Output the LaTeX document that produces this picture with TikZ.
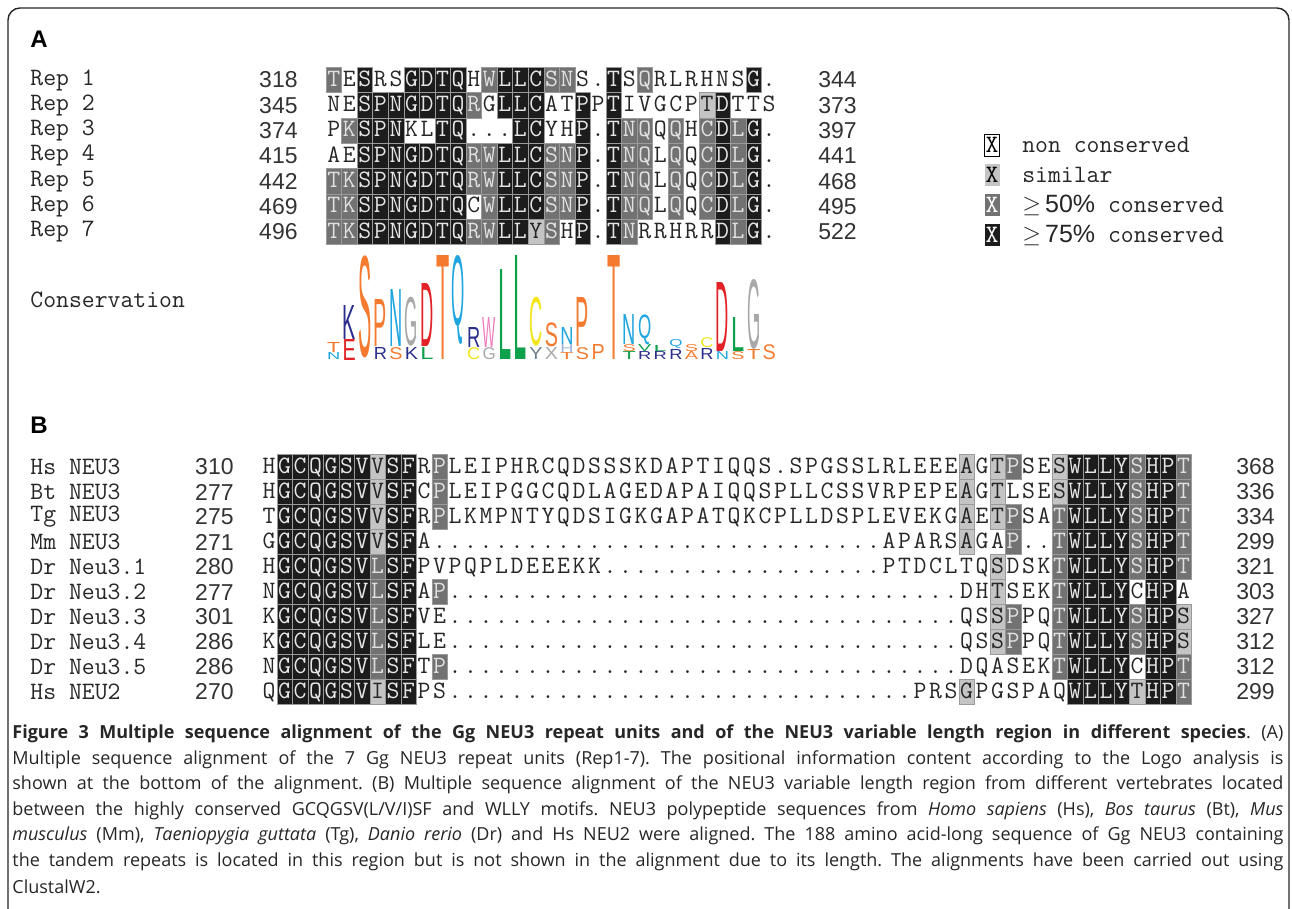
\documentclass[tikz,border=0pt]{standalone}
\usepackage{fontspec}
\setsansfont{Liberation Sans}
\newfontfamily\capfont{Open Sans}
\usepackage{graphicx}
\usetikzlibrary{positioning}

\definecolor{alnk}{HTML}{1C1C1C}
\definecolor{alnm}{HTML}{727272}
\definecolor{alnl}{HTML}{C4C4C4}
\definecolor{alngrid}{HTML}{9A9A9A}
\definecolor{lgor}{HTML}{F47A2F}
\definecolor{lgcy}{HTML}{1FA5E0}
\definecolor{lgnv}{HTML}{2B2E8C}
\definecolor{lggy}{HTML}{A8A8A8}
\definecolor{lgrd}{HTML}{E32227}
\definecolor{lggn}{HTML}{0DA14B}
\definecolor{lgye}{HTML}{F2E51A}
\definecolor{lgpk}{HTML}{F07CC0}
\definecolor{lgsl}{HTML}{6D7F8F}
\definecolor{lglb}{HTML}{9DB4D6}

\newcommand\seqfont{\ttfamily\fontsize{12.5}{14}\selectfont}
\newcommand\numfont{\sffamily\fontsize{11.5}{13}\selectfont}

\tikzset{
  frame/.style={draw=black!85, line width=0.7pt, rounded corners=6pt},
  plab/.style={inner sep=0, font=\sffamily\bfseries\fontsize{12}{14}\selectfont},
  lbl/.style={inner sep=0, anchor=west, font=\seqfont, text=black!85},
  num/.style={inner sep=0, font=\numfont, text=black!80},
  shw/.style={text=black!85},
  shl/.style={fill=alnl, draw=alngrid, line width=0.2pt, text=black!85},
  shm/.style={fill=alnm, draw=alngrid, line width=0.2pt, text=white!88!black},
  shk/.style={fill=alnk, draw=alngrid, line width=0.2pt, text=white!90!black},
  legbox/.style={inner sep=0, minimum width=7.5pt, minimum height=11pt, font=\seqfont},
  legtxt/.style={inner sep=0, anchor=west, font=\seqfont, text=black!85},
  logo/.style={inner sep=0, anchor=south},
  capline/.style={inner sep=0, anchor=west, text=black!85, font=\capfont\fontsize{9}{10}\selectfont\frenchspacing}
}

% one alignment row: x of first cell, y, row id, residues, shades (w/l/m/k)
\newcount\alncol
\def\alndots{.....}
\def\wfive{wwwww}
\def\wten{wwwwwwwwww}
\newcommand\alnrow[5]{%
  \def\alnxo{#1}\def\alnyo{#2}\def\alnid{#3}\global\alncol=0
  \edef\alntmp{\noexpand\alnnext#4\relax#5\relax}\alntmp}
\def\alnnext#1#2\relax#3#4\relax{%
  \global\advance\alncol by 1
  \node[res, sh#3] (\alnid-\the\alncol) at ({\alnxo+\alnw*(\the\alncol-0.5)}, \alnyo) {#1};
  \ifx\relax#2\relax\else\ifx\relax#4\relax\else\alnnext#2\relax#4\relax\fi\fi}

\begin{document}
\begin{tikzpicture}[x=0.5pt,y=-0.5pt]
\useasboundingbox (0,0) rectangle (1292,909);
\draw[frame] (8,909) -- (8,8) -- (1289,8) -- (1289,909);

% panel A
\node[plab] (pa) at (39,39) {A};
\def\alnw{15.55}
\tikzset{res/.style={inner sep=0, minimum width=7.775pt, minimum height=12.65pt, text height=7.7pt, text depth=1.3pt, font=\seqfont}}
\alnrow{326}{80}{a1}{TESRSGDTQHWLLCSNS.TSQRLRHNSG.}{mwkwwkkkkwmkkkmmwwkwmwwwwwwkw}
\alnrow{326}{105.3}{a2}{NESPNGDTQRGLLCATPPTIVGCPTDTTS}{wwkkkkkkkmwkkkwwkwkwwwwwlkwww}
\alnrow{326}{130.6}{a3}{PKSPNKLTQ...LCYHP.TNQQQHCDLG.}{wmkkkwwkkwwwkkwwkwkmmwmwmkmkw}
\alnrow{326}{155.9}{a4}{AESPNGDTQRWLLCSNP.TNQLQQCDLG.}{wwkkkkkkkmmkkkmmkwkmmwmwmkmkw}
\alnrow{326}{181.2}{a5}{TKSPNGDTQRWLLCSNP.TNQLQQCDLG.}{mmkkkkkkkmmkkkmmkwkmmwmwmkmkw}
\alnrow{326}{206.5}{a6}{TKSPNGDTQCWLLCSNP.TNQLQQCDLG.}{mmkkkkkkkwmkkkmmkwkmmwmwmkmkw}
\alnrow{326}{231.8}{a7}{TKSPNGDTQRWLLYSHP.TNRRHRRDLG.}{mmkkkkkkkmmkklmwkwkmwwwwwkmkw}
\foreach \lab/\nst/\nen [count=\i] in {Rep 1/318/344, Rep 2/345/373, Rep 3/374/397,
    Rep 4/415/441, Rep 5/442/468, Rep 6/469/495, Rep 7/496/522} {
  \node[lbl] (rep\i) at (30, {80+25.3*(\i-1)}) {\lab};
  \node[num, anchor=east] (repst\i) at (298, {80+25.3*(\i-1)}) {\nst};
  \node[num, anchor=west] (repen\i) at (818, {80+25.3*(\i-1)}) {\nen};
}

% legend
\node[legbox, fill=white, draw=black, line width=0.4pt, text=black] (lg1) at (992,145) {X};
\node[legbox, fill=alnl, text=black] (lg2) at (992,175) {X};
\node[legbox, fill=alnm, text=white] (lg3) at (992,205) {X};
\node[legbox, fill=alnk, text=white] (lg4) at (992,235) {X};
\node[legtxt, right=11pt of lg1] (lt1) {non conserved};
\node[legtxt, right=11pt of lg2] (lt2) {similar};
\node[legtxt, right=11pt of lg3] (lt3) {$\geq$\,\textsf{50\%} conserved};
\node[legtxt, right=11pt of lg4] (lt4) {$\geq$\,\textsf{75\%} conserved};

% logo
\node[lbl] (cons) at (30,300) {Conservation};
\foreach \lc/\lt/\lb/\lch/\lk in {1/343/353/T/lgor, 1/353/360/N/lgcy,
    2/340/361/E/lgrd, 2/306/340/K/lgnv, 3/256/358/S/lgor,
    4/348/360/R/lgnv, 4/300/347/P/lgor, 5/348/360/S/lgor, 5/290/347/N/lgcy,
    6/348/360/K/lgnv, 6/298/347/G/lggy, 7/348/360/L/lggn, 7/284/347/D/lgrd,
    8/256/360/T/lgor, 9/256/345/Q/lgcy,
    10/348/360/C/lgye, 10/328/348/R/lgnv, 11/348/360/G/lggy, 11/318/348/W/lgpk,
    12/270/360/L/lggn, 13/256/360/L/lggn,
    14/348/360/Y/lgsl, 14/298/347/C/lgye, 15/348/360/X/lggy, 15/323/347/S/lgor,
    16/353/360/T/lgor, 16/345/353/H/lglb, 16/328/345/N/lgcy,
    17/348/360/S/lgor, 17/298/347/P/lgor, 18/345/360/P/lgor, 19/256/360/T/lgor,
    20/352/360/T/lggn, 20/345/352/S/lgor, 20/315/345/N/lgcy,
    21/352/360/R/lgnv, 21/345/352/V/lggn, 21/315/345/Q/lgcy,
    22/352/360/R/lgnv, 22/346/352/L/lggn, 23/350/360/R/lgnv, 23/340/349/Q/lgcy,
    24/352/360/A/lgor, 24/345/352/S/lgor, 25/349/360/R/lgnv, 25/338/348/C/lgye,
    26/352/360/N/lgcy, 26/283/352/D/lgrd, 27/352/360/S/lgor, 27/318/352/L/lggn,
    28/350/360/T/lgor, 28/280/350/G/lggy, 29/345/360/S/lgor} {
  \pgfmathsetlengthmacro\lh{(\lb-\lt)*0.5}
  \node[logo, text=\lk] (logo-\lc-\lch) at ({326+15.55*(\lc-0.5)}, \lb) {\resizebox*{6.6pt}{\lh}{\sffamily\lch}};
}

% panel B
\node[plab] (pb) at (39,425) {B};
\def\alnw{15.5}
\tikzset{res/.style={inner sep=0, minimum width=7.75pt, minimum height=12.5pt, text height=7.7pt, text depth=1.3pt, font=\seqfont}}
\alnrow{261.2}{467}{b1}{HGCQGSVVSFRPLEIPHRCQDSSSKDAPTIQQS.SPGSSLRLEEEAGTPSESWLLYSHPT}{wkkkkkklkkwm\wfive www\wten\wten\wfive lwlmwwlkkkkmkkm}
\alnrow{261.2}{492}{b2}{HGCQGSVVSFCPLEIPGGCQDLAGEDAPAIQQSPLLCSSVRPEPEAGTLSESWLLYSHPT}{wkkkkkklkkwm\wfive www\wten\wten\wfive lwlwwwlkkkkmkkm}
\alnrow{261.2}{517}{b3}{TGCQGSVVSFRPLKMPNTYQDSIGKGAPATQKCPLLDSPLEVEKGAETPSATWLLYSHPT}{wkkkkkklkkwm\wfive www\wten\wten\wfive lwlmwwmkkkkmkkm}
\alnrow{261.2}{542}{b4}{GGCQGSVVSFA\alndots\alndots\alndots\alndots\alndots....APARSAGAP..TWLLYSHPT}{wkkkkkklkk\wten\wten\wten\wfive lwwmwwmkkkkmkkm}
\alnrow{261.2}{567}{b5}{HGCQGSVLSFPVPQPLDEEEKK\alndots\alndots\alndots...PTDCLTQSDSKTWLLYSHPT}{wkkkkkkmkk\wten\wten\wten\wfive wwlwwwmkkkkmkkm}
\alnrow{261.2}{592}{b6}{NGCQGSVLSFAP\alndots\alndots\alndots\alndots\alndots\alndots...DHTSEKTWLLYCHPA}{wkkkkkkmkkwm\wfive www\wten\wten\wfive wwlwwwmkkkkwkkw}
\alnrow{261.2}{617}{b7}{KGCQGSVLSFVE\alndots\alndots\alndots\alndots\alndots\alndots...QSSPPQTWLLYSHPS}{wkkkkkkmkk\wten\wten\wten\wfive wwlmwwmkkkkmkkl}
\alnrow{261.2}{642}{b8}{KGCQGSVLSFLE\alndots\alndots\alndots\alndots\alndots\alndots...QSSPPQTWLLYSHPS}{wkkkkkkmkk\wten\wten\wten\wfive wwlmwwmkkkkmkkl}
\alnrow{261.2}{667}{b9}{NGCQGSVLSFTP\alndots\alndots\alndots\alndots\alndots\alndots...DQASEKTWLLYCHPT}{wkkkkkkmkkwm\wfive www\wten\wten\wten wmkkkkwkkm}
\alnrow{261.2}{692}{b10}{QGCQGSVISFPS\alndots\alndots\alndots\alndots\alndots.....PRSGPGSPAQWLLYTHPT}{wkkkkkklkk\wten\wten\wten\wfive lwwwwwwkkkklkkm}
\foreach \lab/\nst/\nen [count=\i] in {Hs NEU3/310/368, Bt NEU3/277/336, Tg NEU3/275/334,
    Mm NEU3/271/299, Dr Neu3.1/280/321, Dr Neu3.2/277/303, Dr Neu3.3/301/327,
    Dr Neu3.4/286/312, Dr Neu3.5/286/312, Hs NEU2/270/299} {
  \node[lbl] (sp\i) at (30, {467+25*(\i-1)}) {\lab};
  \node[num, anchor=east] (spst\i) at (234, {467+25*(\i-1)}) {\nst};
  \node[num, anchor=west] (spen\i) at (1236, {467+25*(\i-1)}) {\nen};
}

% caption
\node[capline] (cap1) at (12,734) {\makebox[635.5pt][s]{{\bfseries Figure 3 Multiple sequence alignment of the Gg NEU3 repeat units and of the NEU3 variable length region in different species}. (A)}};
\node[capline] (cap2) at (12,759.5) {\makebox[635.5pt][s]{Multiple sequence alignment of the 7 Gg NEU3 repeat units (Rep1-7). The positional information content according to the Logo analysis is}};
\node[capline] (cap3) at (12,785) {\makebox[635.5pt][s]{shown at the bottom of the alignment. (B) Multiple sequence alignment of the NEU3 variable length region from different vertebrates located}};
\node[capline] (cap4) at (12,810.5) {\makebox[635.5pt][s]{between the highly conserved GCQGSV(L/V/I)SF and WLLY motifs. NEU3 polypeptide sequences from \textit{Homo sapiens} (Hs), \textit{Bos taurus} (Bt), \textit{Mus}}};
\node[capline] (cap5) at (12,836) {\makebox[635.5pt][s]{\textit{musculus} (Mm), \textit{Taeniopygia guttata} (Tg), \textit{Danio rerio} (Dr) and Hs NEU2 were aligned. The 188 amino acid-long sequence of Gg NEU3 containing}};
\node[capline] (cap6) at (12,861.5) {\makebox[635.5pt][s]{the tandem repeats is located in this region but is not shown in the alignment due to its length. The alignments have been carried out using}};
\node[capline] (cap7) at (12,887) {ClustalW2.};
\end{tikzpicture}
\end{document}
